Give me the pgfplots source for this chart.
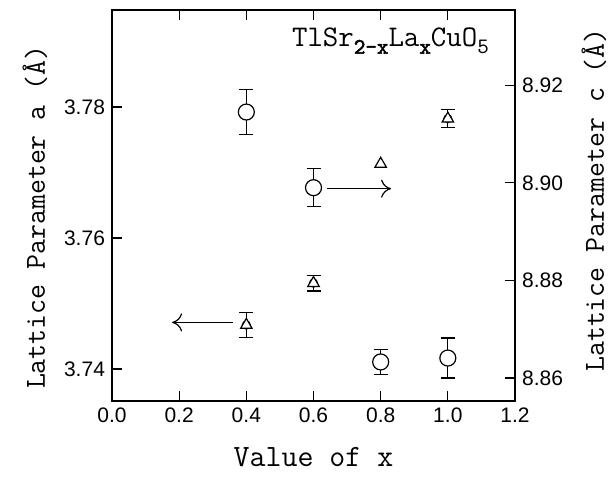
\documentclass[border=0pt]{standalone}
\usepackage{fontspec}
\setmainfont{Latin Modern Mono}
\newfontfamily\boldmono[FakeBold=2.5]{Latin Modern Mono}
\newfontfamily\ticksans{Liberation Sans}
\usepackage{pgfplots}
\pgfplotsset{compat=1.18}
\usetikzlibrary{arrows.meta}

\newcommand{\sub}[1]{\raisebox{-3.5pt}{\fontsize{11}{12}\selectfont#1}}

% lattice parameter a (triangles, left axis)
\pgfplotstableread{
x    y       e
0.4  3.7467  0.0019
0.6  3.7531  0.0012
0.8  3.7713  0
1.0  3.7782  0.0014
}\adata
% lattice parameter c (circles, right axis)
\pgfplotstableread{
x    y       e
0.4  8.9145  0.0046
0.6  8.8990  0.0039
0.8  8.8633  0.0026
1.0  8.8641  0.0041
}\cdata

\begin{document}
\begin{tikzpicture}
\pgfplotsset{
  common/.style={
    width=201.5pt, height=195.5pt, scale only axis,
    xmin=0, xmax=1.2,
    xtick={0,0.2,0.4,0.6,0.8,1.0,1.2},
    tick align=inside,
    major tick length=5pt,
    tick style={black, line width=0.6pt},
    tick label style={font=\ticksans\fontsize{10.5}{12}\selectfont},
    /pgf/number format/assume math mode=true,
    label style={font=\fontsize{14.5}{16}\selectfont},
    axis line style={line width=0.6pt},
    xticklabel style={/pgf/number format/.cd, fixed, fixed zerofill, precision=1},
    yticklabel style={/pgf/number format/.cd, fixed, fixed zerofill, precision=2},
  },
  ebar/.style={only marks, mark=none, black, line width=0.6pt,
    error bars/.cd, y dir=both, y explicit,
    error bar style={line width=0.6pt},
    error mark options={rotate=90, mark size=3.5pt, line width=0.6pt}},
}
\begin{axis}[common, name=main,
  ymin=3.7351, ymax=3.7948,
  ytick={3.74,3.76,3.78},
  ytick pos=left,
  xtick pos=both, xticklabel pos=lower,
  xlabel={Value of x},
  ylabel={Lattice Parameter a (Å)},
  xlabel style={at={(axis description cs:0.5,-0.143)}, anchor=center, font=\fontsize{15.5}{17}\selectfont},
  ylabel style={at={(axis description cs:-0.191,0.47)}, anchor=center},
]
\addplot+[ebar] table[x=x, y=y, y error=e] {
x    y       e
0.4  3.7467  0.0019
0.6  3.7531  0.0012
1.0  3.7782  0.0014
};
\addplot[only marks, mark=triangle*, mark size=3.3pt, black, fill=white, line width=0.6pt]
  table[x=x, y=y] {\adata};
\draw[-{To[length=5pt,width=9pt]}, line width=0.6pt] (axis cs:0.36,3.7471) -- (axis cs:0.179,3.7471);
\node[anchor=base west, font=\fontsize{15}{17}\selectfont, inner sep=0pt]
  at (axis cs:0.535,3.7892) {TlSr\sub{\boldmono 2-x}La\sub{\boldmono x}CuO\sub{5}};
\end{axis}
\begin{axis}[common,
  ymin=8.8553, ymax=8.9354,
  ytick={8.86,8.88,8.90,8.92},
  hide x axis,
  axis y line*=right,
  ylabel={Lattice Parameter c (Å)},
  ylabel style={at={(axis description cs:1.196,0.514)}, anchor=center},
]
\addplot+[ebar] table[x=x, y=y, y error=e] {\cdata};
\addplot[only marks, mark=*, mark size=4pt, black, fill=white, line width=0.6pt]
  table[x=x, y=y] {\cdata};
\draw[-{To[length=5pt,width=9pt]}, line width=0.6pt] (axis cs:0.64,8.8988) -- (axis cs:0.831,8.8988);
\end{axis}
\pgfresetboundingbox
\path ([shift={(-56pt,-37.5pt)}]main.south west) rectangle ([shift={(46.5pt,5pt)}]main.north east);
\end{tikzpicture}
\end{document}
